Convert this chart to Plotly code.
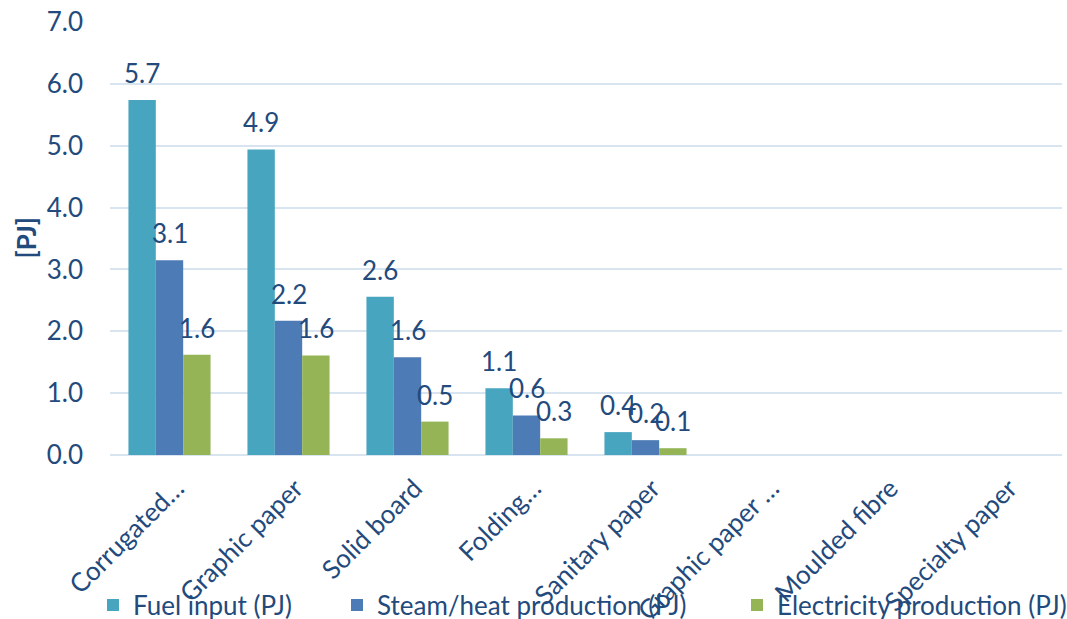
import plotly.graph_objects as go

# Paper-making sub-sectors
categories = ["Corrugated…", "Graphic paper", "Solid board", "Folding…",
              "Sanitary paper", "Graphic paper …", "Moulded fibre", "Specialty paper"]

# Energy flows per sub-sector [PJ]
fuel_input = [5.74, 4.94, 2.56, 1.08, 0.37, 0, 0, 0]
steam_heat = [3.15, 2.17, 1.58, 0.64, 0.24, 0, 0, 0]
electricity = [1.62, 1.61, 0.54, 0.27, 0.11, 0, 0, 0]

series_names = ["Fuel input (PJ)", "Steam/heat production (PJ)", "Electricity production (PJ)"]
series_values = [fuel_input, steam_heat, electricity]
series_colors = ["#48a5bf", "#4c7bb5", "#94b455"]

y_ticks = [0, 1, 2, 3, 4, 5, 6, 7]

TEXT = "#234a7c"
FONT = "Lato"
FS = 26
W, H = 1067, 619
ML, MR, MT, MB = 110, 5, 22, 164
BARGAP = 0.31

plot_w = W - ML - MR
cat_w = plot_w / len(categories)
bar_w = cat_w * (1 - BARGAP) / len(series_names)

fig = go.Figure()
legend_names = ["legend", "legend2", "legend3"]
annotations = []
for i, (name, vals, col, lg) in enumerate(zip(series_names, series_values, series_colors, legend_names)):
    fig.add_trace(go.Bar(
        x=categories, y=vals, name=name, legend=lg, showlegend=True,
        marker=dict(color=col, line=dict(width=0)),
    ))
    # value labels floating above each bar
    offset = (i - (len(series_names) - 1) / 2) * bar_w
    for c, v in zip(categories, vals):
        if v > 0:
            annotations.append(dict(
                x=c, y=v, xref="x", yref="y", text=f"{v:.1f}", showarrow=False,
                xanchor="center", yanchor="bottom", xshift=offset, yshift=9,
                font=dict(family=FONT, size=FS, color=TEXT)))

annotations.append(dict(text="<b>[PJ]</b>", textangle=-90, xref="paper", yref="paper",
                        x=(25 - ML) / plot_w, y=0.5, xanchor="center", yanchor="middle",
                        showarrow=False, font=dict(family=FONT, size=FS, color=TEXT)))

legend_style = dict(orientation="h", yref="container", xref="container",
                    yanchor="middle", y=(H - 605) / H, xanchor="left",
                    font=dict(family=FONT, size=FS, color=TEXT),
                    bgcolor="rgba(0,0,0,0)", itemclick=False)
legend_x = [93, 337, 737]

fig.update_layout(
    width=W, height=H, showlegend=True,
    margin=dict(l=ML, r=MR, t=MT, b=MB),
    paper_bgcolor="white", plot_bgcolor="white",
    barmode="group", bargap=BARGAP, bargroupgap=0,
    font=dict(family=FONT, size=FS, color=TEXT),
    legend=dict(legend_style, x=legend_x[0] / W),
    legend2=dict(legend_style, x=legend_x[1] / W),
    legend3=dict(legend_style, x=legend_x[2] / W),
    xaxis=dict(tickangle=-45, showgrid=False, showline=False, ticks="",
               automargin=False, ticklabelstandoff=12, ticklabelshift=7,
               tickfont=dict(family=FONT, size=FS, color=TEXT)),
    yaxis=dict(range=[0, 7], tickvals=y_ticks, tickformat=".1f",
               showgrid=True, gridcolor="#d9e4f1", gridwidth=2,
               zeroline=True, zerolinecolor="#d9e4f1", zerolinewidth=2,
               automargin=False, ticks="", ticklabelstandoff=26,
               tickfont=dict(family=FONT, size=FS, color=TEXT)),
    annotations=annotations,
)

fig.write_html("out.html")
